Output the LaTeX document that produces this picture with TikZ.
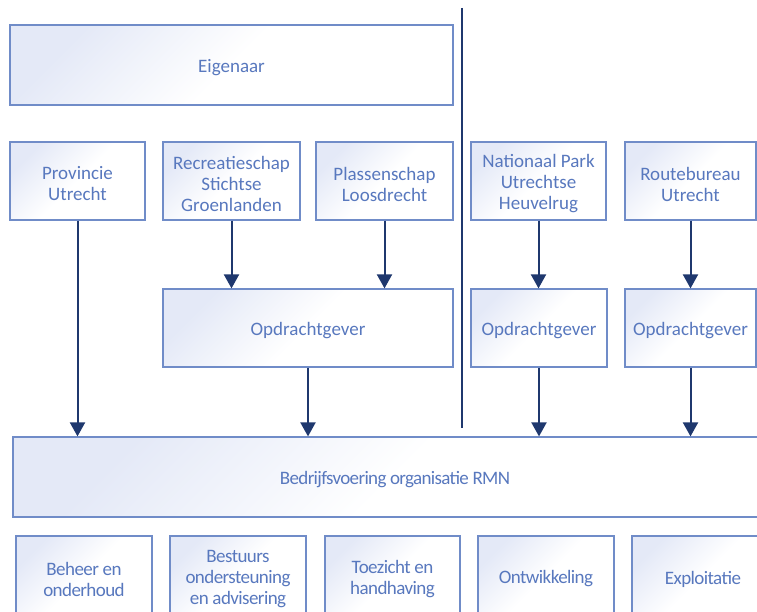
\documentclass[tikz,border=0pt]{standalone}
\usepackage{fontspec}
\setmainfont{Carlito}
\usetikzlibrary{arrows.meta}
\definecolor{bordc}{RGB}{112,140,200}
\definecolor{txtc}{RGB}{88,120,190}
\definecolor{shadec}{RGB}{228,233,247}
\definecolor{navy}{RGB}{31,56,110}
\tikzset{
  box/.style={draw=bordc, line width=1.2pt, top color=shadec, bottom color=white, middle color=white, shading angle=45,
    inner sep=0pt},
  lbl/.style={text=txtc, align=center, inner sep=0pt, font=\fontsize{19}{21}\selectfont},
  arr/.style={draw=navy, line width=2pt, -{Triangle[length=14pt,width=15pt]}},
}
\newcommand{\bx}[6]{\node[box, minimum width=#4-#2, minimum height=#5-#3] (#1) at ({(#2+#4)/2},{(#3+#5)/2}) {};
\node[lbl] (#1-t) at ([yshift=-3pt]#1.center) {#6};}
\begin{document}
\begin{tikzpicture}[x=1pt,y=-1pt]
\clip (0,0) rectangle (757,612);
\fill[white] (0,0) rectangle (757,612);
\bx{eig}{10}{25}{453}{105}{Eigenaar}
\bx{prov}{10}{142}{145}{220}{Provincie\\Utrecht}
\bx{rec}{163}{142}{300}{220}{Recreatieschap\\Stichtse\\Groenlanden}
\bx{pla}{316}{142}{453}{220}{Plassenschap\\Loosdrecht}
\bx{np}{471}{142}{606}{220}{Nationaal Park\\Utrechtse\\Heuvelrug}
\bx{rb}{625}{142}{756}{220}{Routebureau\\Utrecht}
\bx{opm}{163}{289}{453}{367}{Opdrachtgever}
\bx{opn}{471}{289}{607}{367}{Opdrachtgever}
\bx{opr}{625}{289}{756}{367}{Opdrachtgever}
\begin{scope}[lbl/.append style={font=\fontsize{19}{21}\selectfont\addfontfeatures{LetterSpace=-3.5}}]
\bx{bed}{13}{437}{777}{517}{Bedrijfsvoering organisatie RMN}
\end{scope}
\begin{scope}[lbl/.append style={font=\fontsize{19}{21}\selectfont\addfontfeatures{LetterSpace=-3}}]
\bx{beh}{16}{536}{152}{616}{Beheer en\\onderhoud}
\bx{bes}{170}{536}{306}{616}{Bestuurs\\ondersteuning\\en advisering}
\bx{toe}{325}{536}{460}{616}{Toezicht en\\handhaving}
\bx{ont}{478}{536}{614}{616}{Ontwikkeling}
\bx{exp}{632}{536}{774}{616}{Exploitatie}
\end{scope}
\coordinate (vt) at (462,8);
\coordinate (vb) at (462,428);
\draw[navy, line width=2pt] (vt) -- (vb);
\draw[arr] (prov.south) -- (prov.south |- bed.north);
\draw[arr] (rec.south) -- (rec.south |- opm.north);
\draw[arr] (pla.south) -- (pla.south |- opm.north);
\draw[arr] (opm.south) -- (opm.south |- bed.north);
\draw[arr] (np.south) -- (np.south |- opn.north);
\draw[arr] (opn.south) -- (opn.south |- bed.north);
\draw[arr] (rb.south) -- (rb.south |- opr.north);
\draw[arr] (opr.south) -- (opr.south |- bed.north);
\end{tikzpicture}
\end{document}
